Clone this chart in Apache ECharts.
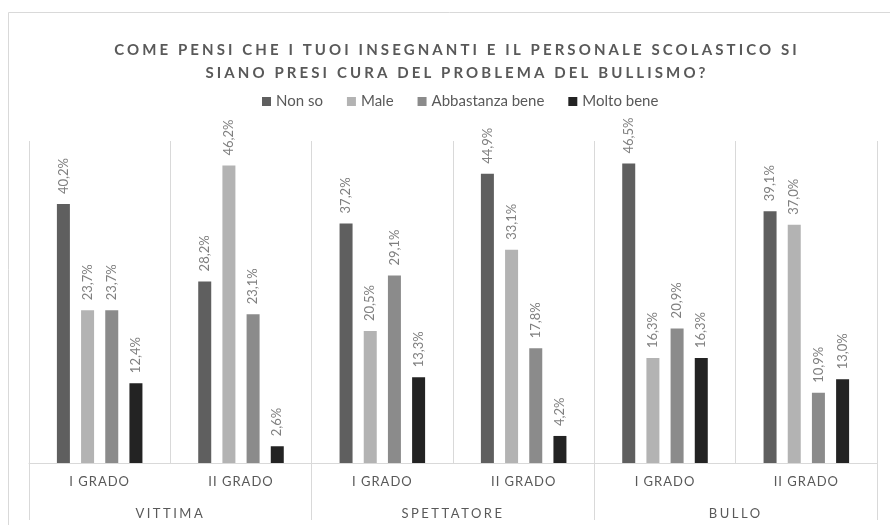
<!DOCTYPE html>
<html>
<head>
    <meta charset="UTF-8">
    <script src="https://cdn.jsdelivr.net/npm/echarts@6/dist/echarts.min.js"></script>
    <style>
        html, body { margin:0; padding:0; background:#fff; }
    </style>
</head>
<body>
    <div id="main" style="width:890px;height:525px;"></div>
    <script>
        var gradi = ['I GRADO', 'II GRADO', 'I GRADO', 'II GRADO', 'I GRADO', 'II GRADO'];
        var ruoli = ['VITTIMA', 'SPETTATORE', 'BULLO'];
        var nonSo      = [40.2, 28.2, 37.2, 44.9, 46.5, 39.1];
        var male       = [23.7, 46.2, 20.5, 33.1, 16.3, 37.0];
        var abbastanza = [23.7, 23.1, 29.1, 17.8, 20.9, 10.9];
        var moltoBene  = [12.4, 2.6, 13.3, 4.2, 16.3, 13.0];

        // canvas letter-spacing: font family "lsNN" => NN/10 px (Excel-like spaced caps)
        var fillTextOrig = CanvasRenderingContext2D.prototype.fillText;
        CanvasRenderingContext2D.prototype.fillText = function (t, x, y, w) {
            var m = /ls(\d+)/.exec(this.font);
            if ('letterSpacing' in this) this.letterSpacing = m ? (m[1] / 10) + 'px' : '0px';
            return w === undefined ? fillTextOrig.call(this, t, x, y) : fillTextOrig.call(this, t, x, y, w);
        };

        function etichetta() {
            return {
                show: true,
                position: 'top',
                distance: 10,
                rotate: 90,
                align: 'left',
                verticalAlign: 'middle',
                color: '#7f7f7f',
                fontSize: 13,
                fontFamily: 'Lato',
                formatter: function (p) {
                    return p.value.toFixed(1).replace('.', ',') + '%';
                }
            };
        }

        function serie(nome, dati, colore) {
            return {
                name: nome,
                type: 'bar',
                data: dati,
                barWidth: 13,
                barGap: '86%',
                itemStyle: { color: colore },
                label: etichetta()
            };
        }

        var chart = echarts.init(document.getElementById('main'));
        chart.setOption({
            animation: false,
            textStyle: { fontFamily: 'Lato' },
            title: {
                text: 'COME PENSI CHE I TUOI INSEGNANTI E IL PERSONALE SCOLASTICO SI\nSIANO PRESI CURA DEL PROBLEMA DEL BULLISMO?',
                left: 452,
                top: 34,
                textAlign: 'center',
                textStyle: {
                    fontFamily: 'Lato, ls31',
                    fontSize: 15,
                    fontWeight: 'bold',
                    color: '#595959',
                    lineHeight: 23
                }
            },
            legend: {
                left: 257,
                top: 89,
                itemWidth: 9,
                itemHeight: 9,
                itemGap: 24,
                icon: 'rect',
                textStyle: { color: '#595959', fontSize: 15, fontFamily: 'Lato' },
                data: ['Non so', 'Male', 'Abbastanza bene', 'Molto bene']
            },
            graphic: [{
                type: 'rect',
                shape: { x: 8.5, y: 12.5, width: 1000, height: 1000 },
                style: { fill: 'none', stroke: '#d9d9d9', lineWidth: 1 },
                silent: true
            }],
            grid: { left: 29, right: 13, top: 141, bottom: 62 },
            xAxis: [{
                type: 'category',
                data: gradi,
                position: 'bottom',
                axisLine: { lineStyle: { color: '#d9d9d9' } },
                axisTick: { show: false },
                splitLine: { show: true, lineStyle: { color: '#d9d9d9' } },
                axisLabel: {
                    interval: 0,
                    margin: 12,
                    color: '#595959',
                    fontSize: 13,
                    fontFamily: 'Lato, ls10'
                }
            }, {
                type: 'category',
                data: ruoli,
                position: 'bottom',
                offset: 0,
                axisLine: { show: false },
                axisTick: { show: true, length: 57, lineStyle: { color: '#d9d9d9' } },
                splitLine: { show: false },
                axisLabel: {
                    interval: 0,
                    margin: 44,
                    color: '#595959',
                    fontSize: 13,
                    fontFamily: 'Lato, ls25'
                }
            }],
            yAxis: {
                type: 'value',
                min: 0,
                max: 50,
                show: false
            },
            series: [
                serie('Non so', nonSo, '#5f5f5f'),
                serie('Male', male, '#b3b3b3'),
                serie('Abbastanza bene', abbastanza, '#8b8b8b'),
                serie('Molto bene', moltoBene, '#232323')
            ]
        });
    </script>
</body>
</html>
